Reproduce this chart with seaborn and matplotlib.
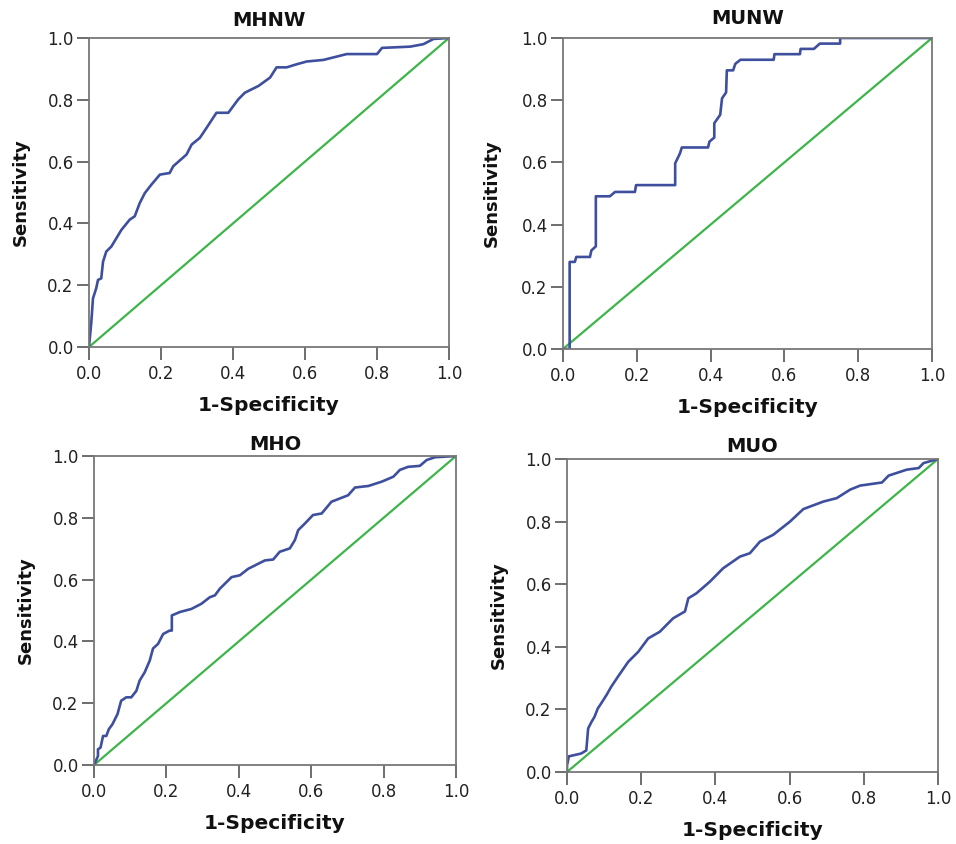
import matplotlib
matplotlib.use("Agg")
import matplotlib.pyplot as plt
import seaborn as sns
import pandas as pd

sns.set_theme(style="white")
plt.rcParams['font.family'] = ['DejaVu Sans']

titles = ["MHNW", "MUNW", "MHO", "MUO"]

mhnw_fpr = [0, 0.0065, 0.011, 0.02, 0.025, 0.034, 0.039, 0.048, 0.062, 0.076, 0.090, 0.113, 0.127,
            0.141, 0.155, 0.173, 0.197, 0.224, 0.234, 0.271, 0.285, 0.308, 0.327, 0.354, 0.387, 0.415,
            0.433, 0.471, 0.503, 0.521, 0.549, 0.577, 0.605, 0.651, 0.716, 0.800, 0.814, 0.892, 0.929,
            0.957, 1.0]
mhnw_tpr = [0, 0.081, 0.157, 0.19, 0.217, 0.222, 0.276, 0.309, 0.325, 0.352, 0.379, 0.412, 0.423,
            0.466, 0.498, 0.525, 0.558, 0.563, 0.585, 0.623, 0.655, 0.677, 0.710, 0.758, 0.758, 0.802,
            0.823, 0.845, 0.872, 0.905, 0.905, 0.915, 0.924, 0.929, 0.948, 0.948, 0.968, 0.972, 0.980,
            0.997, 1.0]

munw_fpr = [0, 0.018, 0.018, 0.032, 0.036, 0.073, 0.077, 0.089, 0.089, 0.127, 0.141, 0.195, 0.198,
            0.304, 0.304, 0.317, 0.322, 0.393, 0.397, 0.410, 0.410, 0.426, 0.431, 0.442, 0.444, 0.461,
            0.467, 0.481, 0.571, 0.573, 0.642, 0.644, 0.680, 0.696, 0.751, 0.751, 1.0]
munw_tpr = [0, 0, 0.280, 0.280, 0.296, 0.296, 0.317, 0.330, 0.491, 0.491, 0.505, 0.505, 0.527,
            0.527, 0.597, 0.629, 0.648, 0.648, 0.667, 0.680, 0.726, 0.753, 0.806, 0.825, 0.896, 0.896,
            0.917, 0.930, 0.930, 0.948, 0.948, 0.965, 0.965, 0.982, 0.982, 1.0, 1.0]

mho_fpr = [0, 0.011, 0.011, 0.018, 0.025, 0.034, 0.041, 0.051, 0.065, 0.075, 0.089, 0.103, 0.117,
           0.126, 0.140, 0.154, 0.163, 0.177, 0.191, 0.209, 0.215, 0.215, 0.237, 0.269, 0.297, 0.320,
           0.334, 0.348, 0.380, 0.403, 0.426, 0.472, 0.495, 0.513, 0.541, 0.555, 0.564, 0.583, 0.605,
           0.629, 0.656, 0.702, 0.721, 0.758, 0.795, 0.827, 0.845, 0.868, 0.900, 0.919, 0.942, 1.0]
mho_tpr = [0, 0.029, 0.051, 0.056, 0.094, 0.094, 0.116, 0.132, 0.165, 0.208, 0.219, 0.219, 0.240,
           0.273, 0.300, 0.338, 0.377, 0.392, 0.424, 0.435, 0.435, 0.484, 0.495, 0.505, 0.522, 0.543,
           0.549, 0.571, 0.608, 0.614, 0.635, 0.662, 0.665, 0.690, 0.701, 0.728, 0.760, 0.782, 0.809,
           0.814, 0.852, 0.873, 0.898, 0.903, 0.917, 0.933, 0.955, 0.965, 0.968, 0.987, 0.996, 1.0]

muo_fpr = [0, 0, 0.005, 0.016, 0.038, 0.052, 0.057, 0.066, 0.074, 0.083, 0.092, 0.106, 0.119, 0.137,
           0.165, 0.192, 0.219, 0.250, 0.286, 0.318, 0.327, 0.349, 0.385, 0.421, 0.466, 0.493, 0.520,
           0.556, 0.601, 0.637, 0.691, 0.727, 0.763, 0.790, 0.849, 0.867, 0.916, 0.948, 0.961, 1.0]
muo_tpr = [0, 0.021, 0.050, 0.053, 0.059, 0.069, 0.139, 0.160, 0.176, 0.203, 0.219, 0.245, 0.272, 0.304,
           0.352, 0.384, 0.427, 0.448, 0.491, 0.513, 0.555, 0.571, 0.608, 0.651, 0.688, 0.699, 0.736,
           0.758, 0.800, 0.840, 0.864, 0.875, 0.902, 0.915, 0.925, 0.947, 0.966, 0.971, 0.987, 1.0]

ref_x = [0, 1]
ref_y = [0, 1]
ticks = [0.0, 0.2, 0.4, 0.6, 0.8, 1.0]
tick_labels = ["0.0", "0.2", "0.4", "0.6", "0.8", "1.0"]

curves = [(mhnw_fpr, mhnw_tpr), (munw_fpr, munw_tpr), (mho_fpr, mho_tpr), (muo_fpr, muo_tpr)]

positions = [
    [89 / 956, (844 - 347) / 844, 360 / 956, 309 / 844],
    [563 / 956, (844 - 349) / 844, 369 / 956, 311 / 844],
    [94 / 956, (844 - 765) / 844, 362 / 956, 309 / 844],
    [567 / 956, (844 - 772) / 844, 371 / 956, 313 / 844],
]
title_pads = [9, 10, 4.5, 5]
ylabel_pads = [13, 15, 13, 13]

blue = "#3E4F9E"
green = "#3DB54A"
spine_col = "#777777"

fig = plt.figure(figsize=(9.56, 8.44), dpi=100)
fig.patch.set_facecolor("white")

for title, (fx, ty), pos, tp, yp in zip(titles, curves, positions, title_pads, ylabel_pads):
    ax = fig.add_axes(pos)
    df = pd.DataFrame({"fpr": fx, "tpr": ty})
    ref = pd.DataFrame({"x": ref_x, "y": ref_y})
    sns.lineplot(data=ref, x="x", y="y", ax=ax, color=green, linewidth=1.6,
                 estimator=None, sort=False)
    sns.lineplot(data=df, x="fpr", y="tpr", ax=ax, color=blue, linewidth=1.9,
                 estimator=None, sort=False)
    ax.set_xlim(0, 1)
    ax.set_ylim(0, 1)
    ax.set_xticks(ticks)
    ax.set_xticklabels(tick_labels)
    ax.set_yticks(ticks)
    ax.set_yticklabels(tick_labels)
    ax.tick_params(axis="both", which="major", bottom=True, left=True, direction="out",
                   length=9, width=1.2, color="#555555",
                   labelsize=12, labelcolor="#222222")
    ax.tick_params(axis="x", pad=4)
    ax.tick_params(axis="y", pad=2)
    for s in ax.spines.values():
        s.set_color(spine_col)
        s.set_linewidth(1.3)
    ax.set_title(title, fontsize=14, fontweight="bold", pad=tp, color="#111111")
    ax.set_xlabel("1-Specificity", fontsize=14.5, fontweight="bold", labelpad=9.5, color="#111111")
    ax.set_ylabel("Sensitivity", fontsize=13, fontweight="bold", labelpad=yp, color="#111111")

fig.savefig("out.png", dpi=100, facecolor="white")
